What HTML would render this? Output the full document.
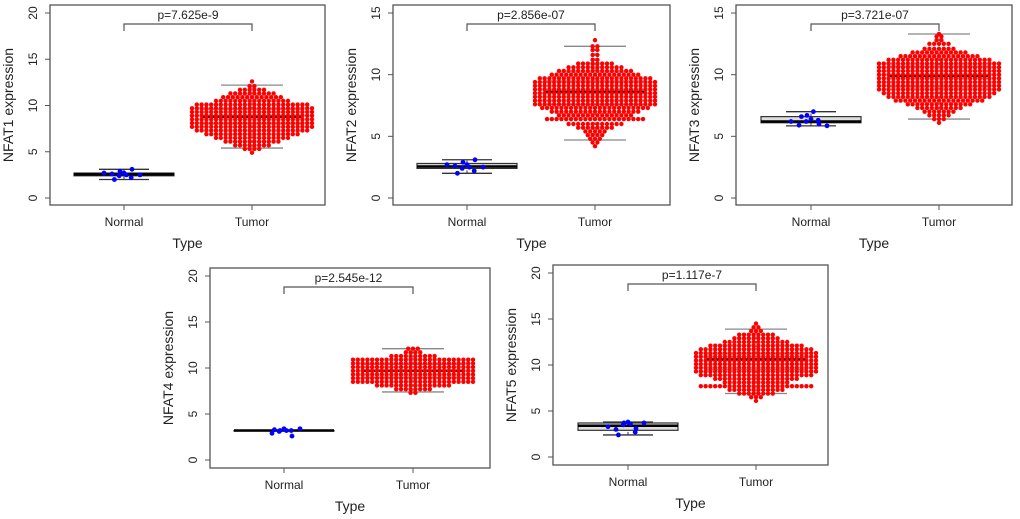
<!DOCTYPE html>
<html><head><meta charset="utf-8"><style>
html,body{margin:0;padding:0;background:#fff;}
svg{display:block;font-family:"Liberation Sans",Arial,sans-serif;}
</style></head><body>
<svg id="fig" width="1020" height="519" viewBox="0 0 1020 519" xmlns="http://www.w3.org/2000/svg"></svg>
<script>
// ---- data ----
const genes = ["NFAT1","NFAT2","NFAT3","NFAT4","NFAT5"];
const pLabels = ["p=7.625e-9","p=2.856e-07","p=3.721e-07","p=2.545e-12","p=1.117e-7"];
const yMaxes = [20,15,15,20,20];
const yTicks20 = [0,5,10,15,20];
const yTicks15 = [0,5,10,15];
const categories = ["Normal","Tumor"];
// box stats: [whiskerLow, q1, median, q3, whiskerHigh]
const normalStats1 = [2.0,2.4,2.55,2.7,3.1];
const normalStats2 = [2.0,2.4,2.55,2.8,3.1];
const normalStats3 = [5.85,6.1,6.2,6.6,7.0];
const normalStats4 = [3.2,3.2,3.2,3.2,3.2];
const normalStats5 = [2.4,2.9,3.4,3.7,3.8];
const tumorStats1 = [5.4,8.0,8.8,9.6,12.2];
const tumorStats2 = [4.7,7.6,8.6,9.5,12.3];
const tumorStats3 = [6.4,9.0,9.9,10.7,13.3];
const tumorStats4 = [7.4,9.0,9.7,10.4,12.1];
const tumorStats5 = [6.9,9.5,10.6,11.2,13.9];
// normal sample values
const normalPts1 = [2.7,2.9,2.5,2.4,3.1,2.6,2.2,2.0,2.5,2.7];
const normalPts2 = [2.7,2.9,2.5,2.4,3.1,2.6,2.2,2.0,2.5,2.7];
const normalPts3 = [6.4,6.7,7.0,6.2,6.0,5.9,6.3,6.6,5.85,6.2];
const normalPts4 = [3.4,3.2,3.2,3.1,2.6,2.9,3.2,3.3,3.4];
const normalPts5 = [3.8,3.7,3.6,3.5,3.1,3.0,2.7,2.4,3.7,3.3];
// tumor swarm: expression levels and number of samples per level
const tumorLevels1 = [4.9,5.3,5.7,6.1,6.5,6.9,7.3,7.7,8.1,8.5,8.9,9.3,9.7,10.1,10.5,10.9,11.3,11.7,12.1,12.6];
const tumorCounts1 = [1,4,8,12,16,20,24,26,26,26,26,26,26,24,16,13,10,6,2,1];
const tumorLevels2 = [4.2,4.5,4.8,5.1,5.4,5.7,6.0,6.4,6.7,7.0,7.3,7.6,7.9,8.2,8.5,8.8,9.1,9.4,9.7,10.0,10.3,10.6,10.9,11.2,11.6,12.0,12.3,12.8];
const tumorCounts2 = [1,2,3,4,5,8,12,21,16,19,23,26,26,26,26,26,26,26,24,19,16,12,8,2,2,2,2,1];
const tumorLevels3 = [6.1,6.4,6.7,7.0,7.3,7.6,7.9,8.2,8.5,8.8,9.1,9.4,9.7,10.0,10.3,10.6,10.9,11.2,11.5,11.8,12.1,12.5,12.8,13.1,13.3];
const tumorCounts3 = [1,3,5,7,10,14,19,22,24,26,26,26,26,26,26,26,26,22,17,12,7,5,2,2,1];
const tumorLevels4 = [7.3,7.7,8.1,8.5,8.9,9.3,9.7,10.1,10.5,10.9,11.3,11.7,12.1];
const tumorCounts4 = [2,8,16,26,26,26,26,26,26,26,10,4,3];
const tumorLevels5 = [6.1,6.5,6.9,7.3,7.7,8.1,8.5,8.9,9.3,9.7,10.1,10.5,10.9,11.3,11.7,12.1,12.5,12.9,13.3,13.7,14.1,14.5];
const tumorCounts5 = [1,3,8,12,24,14,18,24,26,26,26,26,26,26,24,20,14,10,8,3,2,1];

const normalStats=[normalStats1,normalStats2,normalStats3,normalStats4,normalStats5];
const tumorStats=[tumorStats1,tumorStats2,tumorStats3,tumorStats4,tumorStats5];
const normalPts=[normalPts1,normalPts2,normalPts3,normalPts4,normalPts5];
const tumorLevels=[tumorLevels1,tumorLevels2,tumorLevels3,tumorLevels4,tumorLevels5];
const tumorCounts=[tumorCounts1,tumorCounts2,tumorCounts3,tumorCounts4,tumorCounts5];

// ---- layout ----
const panels=[
 {l:50,r:325,t:5,b:205,y0:198,yTop:13,xn:124,xt:252,brTop:24},
 {l:393,r:670,t:5,b:205,y0:198,yTop:13,xn:467,xt:595,brTop:24},
 {l:736,r:1012,t:5,b:205,y0:198,yTop:13,xn:811,xt:939,brTop:24},
 {l:210,r:490,t:268,b:468,y0:460,yTop:276,xn:284,xt:413,brTop:287},
 {l:553,r:828,t:265,b:465,y0:457,yTop:273,xn:628,xt:756,brTop:284}
];
const NS="http://www.w3.org/2000/svg";
const svg=document.getElementById('fig');
function mk(tag,attrs,parent){const e=document.createElementNS(NS,tag);for(const k in attrs)e.setAttribute(k,attrs[k]);(parent||svg).appendChild(e);return e;}

panels.forEach((P,pi)=>{
  const g=mk('g',{});
  
  
  const ymax=yMaxes[pi];
  const Y=v=>P.y0-(P.y0-P.yTop)*v/ymax;
  const fr=mk('rect',{x:P.l,y:P.t,width:P.r-P.l,height:P.b-P.t,fill:'none',stroke:'#555','stroke-width':1.3},g);
  
  
  const ticks=ymax===20?yTicks20:yTicks15;
  ticks.forEach(t=>{
    const y=Y(t);
    mk('line',{x1:P.l-5,x2:P.l,y1:y,y2:y,stroke:'#555'},g);
    const tx=mk('text',{x:P.l-13,y:y,'font-size':12,fill:'#222','text-anchor':'middle',transform:`rotate(-90 ${P.l-13} ${y})`},g);
    tx.textContent=t;
    
    
  });
  const ym=(P.t+P.b)/2;
  const yt=mk('text',{x:P.l-37,y:ym,'font-size':14,fill:'#222','text-anchor':'middle',transform:`rotate(-90 ${P.l-37} ${ym})`},g);
  yt.textContent=genes[pi]+' expression';
  
  
  [P.xn,P.xt].forEach((x,i)=>{
    mk('line',{x1:x,x2:x,y1:P.b,y2:P.b+5,stroke:'#555'},g);
    const tx=mk('text',{x:x,y:P.b+21,'font-size':12,fill:'#222','text-anchor':'middle'},g);
    tx.textContent=categories[i];
    
    
  });
  const xt=mk('text',{x:(P.l+P.r)/2,y:P.b+43,'font-size':14,fill:'#222','text-anchor':'middle'},g);
  xt.textContent='Type';
  
  
  const br=mk('path',{d:`M${P.xn},${P.brTop+7}V${P.brTop}H${P.xt}V${P.brTop+7}`,fill:'none',stroke:'#555','stroke-width':1.2},g);
  
  
  const pt=mk('text',{x:(P.xn+P.xt)/2,y:P.brTop-5,'font-size':12,fill:'#222','text-anchor':'middle'},g);
  pt.textContent=pLabels[pi];
  
  
  function box(cx,s,cap,normal){
    const bg=mk('g',{},g);
    
    
    const col=normal?'#333':'#888';
    mk('line',{x1:cx,x2:cx,y1:Y(s[0]),y2:Y(s[1]),stroke:col,'stroke-dasharray':'3,2'},bg);
    mk('line',{x1:cx,x2:cx,y1:Y(s[3]),y2:Y(s[4]),stroke:col,'stroke-dasharray':'3,2'},bg);
    mk('line',{x1:cx-cap,x2:cx+cap,y1:Y(s[0]),y2:Y(s[0]),stroke:col,'stroke-width':1.3},bg);
    mk('line',{x1:cx-cap,x2:cx+cap,y1:Y(s[4]),y2:Y(s[4]),stroke:col,'stroke-width':1.3},bg);
    mk('rect',{x:cx-50,y:Y(s[3]),width:100,height:Math.max(0.5,Y(s[1])-Y(s[3])),fill:normal?'#ddd':'#eee',stroke:col,'stroke-width':1.2},bg);
    mk('line',{x1:cx-50,x2:cx+50,y1:Y(s[2]),y2:Y(s[2]),stroke:'#000','stroke-width':2.5},bg);
  }
  box(P.xn,normalStats[pi],25,true);
  box(P.xt,tumorStats[pi],31,false);
  const tg=mk('g',{},g);
  
  
  tumorLevels[pi].forEach((lv,k)=>{
    const n=tumorCounts[pi][k];
    for(let i=0;i<n;i++){
      const c=mk('circle',{cx:P.xt+(i-(n-1)/2)*4.8,cy:Y(lv),r:2.2,fill:'#ff0000'},tg);
      
      
    }
  });
  const ng=mk('g',{},g);
  
  
  normalPts[pi].forEach((v,i)=>{
    const off=(i%2?-1:1)*Math.ceil(i/2)*4*((i%4<2)?1:0.6);
    const c=mk('circle',{cx:P.xn+off,cy:Y(v),r:2.4,fill:'#0000ff'},ng);
    
    
  });
});
</script>
</body></html>
